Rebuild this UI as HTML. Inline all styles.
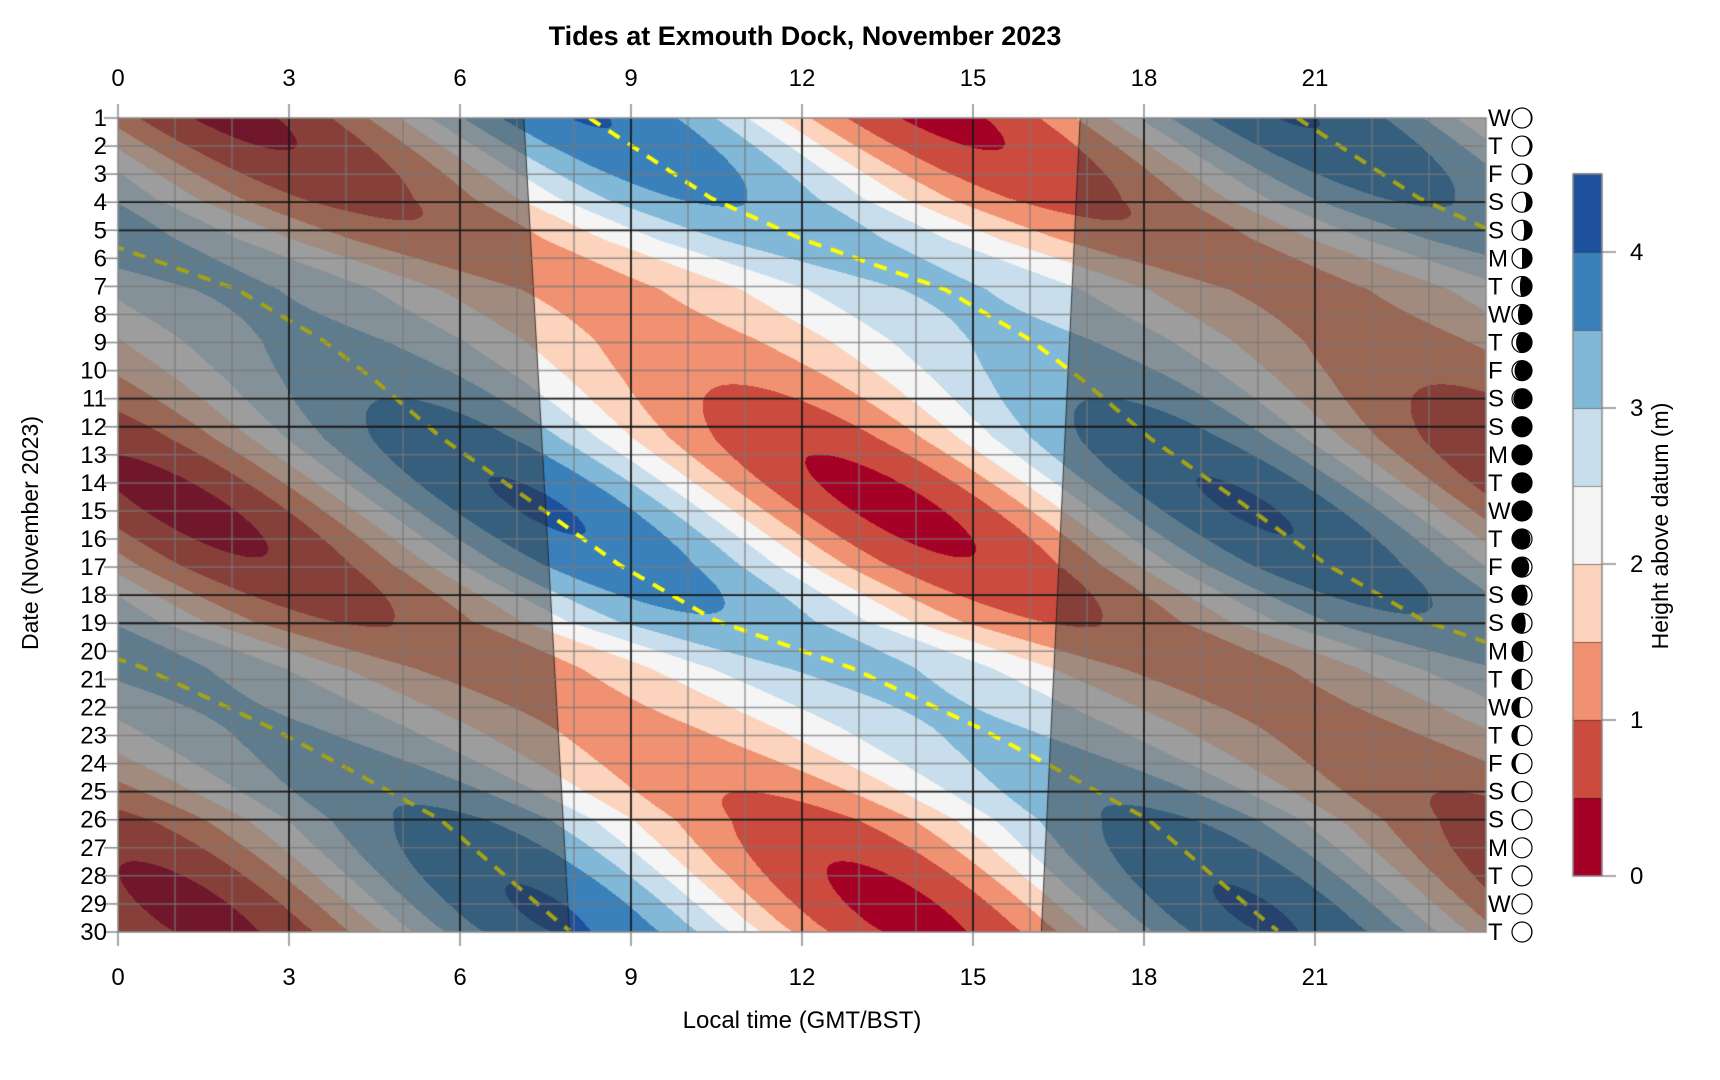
<!DOCTYPE html>
<html><head><meta charset="utf-8">
<style>
html,body{margin:0;padding:0;background:#fff;}
body{width:1720px;height:1080px;position:relative;overflow:hidden;font-family:"Liberation Sans",sans-serif;}
canvas{position:absolute;left:0;top:0;}
</style></head>
<body>
<canvas id="c" width="1720" height="1080"></canvas>
<svg id="s" width="1720" height="1080" style="position:absolute;left:0;top:0" font-family="Liberation Sans, sans-serif">
<text x="805" y="45" font-size="27" font-weight="bold" text-anchor="middle">Tides at Exmouth Dock, November 2023</text>
<text x="802" y="1028" font-size="24" text-anchor="middle">Local time (GMT/BST)</text>
<text transform="translate(38,533) rotate(-90)" font-size="23" text-anchor="middle">Date (November 2023)</text>
<text transform="translate(1668,526) rotate(-90)" font-size="23" text-anchor="middle">Height above datum (m)</text>
<g id="g"></g>
</svg>
<script>
const L=118,R=1486,T=118,B=932;
const W=R-L,H=B-T;
const xh=t=>L+t*W/24, yd=d=>T+(d-1)*H/29;
const Pp=[[1,8.27],[3.85,10.4],[5.3,11.98],[7.1,14.5],[8.9,16.0],[10.3,16.9],[12.4,18.1],[14.7,19.7],[16.9,21.2],[18.9,22.9],[20.6,25.3],[22.7,27.5],[24.1,28.8],[26,30.5],[29.7,32.6],[30,32.8]];
function P(d){for(let i=0;i<Pp.length-1;i++){if(d<=Pp[i+1][0]){const a=Pp[i],b=Pp[i+1];return a[1]+(b[1]-a[1])*(d-a[0])/(b[0]-a[0]);}}return 32.8;}
const Tp=12.42;
function A(d){return 1.35+0.5*Math.cos(2*Math.PI*(d-14.8)/14.5);}
function h(t,d){return 2.2+A(d)*Math.cos(2*Math.PI*(t-P(d))/Tp);}
const cols=[[165,0,38],[203,75,62],[240,146,113],[252,211,188],[245,245,245],[200,222,236],[130,184,215],[58,129,187],[29,80,157]];
const sr=d=>7.12+(d-1)/29*0.8, ss=d=>16.88-(d-1)/29*0.68;
const c=document.getElementById('c').getContext('2d');
const img=c.createImageData(W,H);
for(let y=0;y<H;y++){const d=1+y*29/H;for(let x=0;x<W;x++){const t=x*24/W;let v=h(t,d);let k=Math.floor(v/0.5);k=Math.max(0,Math.min(8,k));let col=cols[k];
const i=(y*W+x)*4;img.data[i]=col[0];img.data[i+1]=col[1];img.data[i+2]=col[2];img.data[i+3]=255;}}
c.putImageData(img,L,T);
c.save();c.beginPath();c.rect(L,T,W,H);c.clip();
c.strokeStyle='#ffff00';c.lineWidth=4;c.setLineDash([13,10]);
for(let k=-3;k<=1;k++){c.beginPath();let first=true;for(let d=1;d<=30;d+=0.05){const t=P(d)+k*Tp;if(t<-0.5||t>24.5){first=true;continue;}const X=xh(t),Y=yd(d);if(first){c.moveTo(X,Y);first=false;}else c.lineTo(X,Y);}c.stroke();}
c.setLineDash([]);
c.fillStyle='rgba(51,51,51,0.45)';
c.beginPath();c.moveTo(L,T);c.lineTo(xh(sr(1)),T);c.lineTo(xh(sr(30)),B);c.lineTo(L,B);c.closePath();c.fill();
c.beginPath();c.moveTo(R,T);c.lineTo(xh(ss(1)),T);c.lineTo(xh(ss(30)),B);c.lineTo(R,B);c.closePath();c.fill();
c.strokeStyle='rgba(30,30,30,0.8)';c.lineWidth=1;
c.beginPath();c.moveTo(xh(sr(1)),T);c.lineTo(xh(sr(30)),B);c.moveTo(xh(ss(1)),T);c.lineTo(xh(ss(30)),B);c.stroke();
c.strokeStyle='rgba(120,120,120,0.75)';c.lineWidth=1.5;
for(let t=1;t<24;t++){if(t%3==0)continue;c.beginPath();c.moveTo(xh(t),T);c.lineTo(xh(t),B);c.stroke();}
const wk=[4,5,11,12,18,19,25,26];
for(let d=2;d<30;d++){if(wk.includes(d))continue;c.beginPath();c.moveTo(L,yd(d));c.lineTo(R,yd(d));c.stroke();}
c.strokeStyle='#1a1a1a';c.lineWidth=1.8;
for(let t=3;t<24;t+=3){c.beginPath();c.moveTo(xh(t),T);c.lineTo(xh(t),B);c.stroke();}
for(const d of wk){c.beginPath();c.moveTo(L,yd(d));c.lineTo(R,yd(d));c.stroke();}
c.restore();
c.strokeStyle='#888';c.lineWidth=1.5;c.strokeRect(L,T,W,H);
c.strokeStyle='#888';c.lineWidth=1.5;
for(let t=0;t<24;t+=3){c.beginPath();c.moveTo(xh(t),T-14);c.lineTo(xh(t),T);c.moveTo(xh(t),B);c.lineTo(xh(t),B+14);c.stroke();}
for(let d=1;d<=30;d++){c.beginPath();c.moveTo(L-14,yd(d));c.lineTo(L,yd(d));c.stroke();}
const cbL=1573,cbR=1602,cb0=876,cbs=156;
for(let k=0;k<9;k++){const y1=cb0-(k+1)*0.5*cbs,y0=cb0-k*0.5*cbs;c.fillStyle=`rgb(${cols[k]})`;c.fillRect(cbL,y1,cbR-cbL,y0-y1);c.strokeStyle='#222';c.lineWidth=1;c.beginPath();c.moveTo(cbL,y1);c.lineTo(cbR,y1);c.stroke();}
c.strokeStyle='#888';c.lineWidth=1.5;c.strokeRect(cbL,cb0-4.5*cbs,cbR-cbL,4.5*cbs);
for(let v=0;v<=4;v++){c.beginPath();c.moveTo(cbR,cb0-v*cbs);c.lineTo(cbR+14,cb0-v*cbs);c.stroke();}
const g=document.getElementById('g');let s='';
for(let t=0;t<24;t+=3){s+=`<text x="${xh(t)}" y="86" font-size="24" text-anchor="middle">${t}</text><text x="${xh(t)}" y="985" font-size="24" text-anchor="middle">${t}</text>`;}
const days='WTFSSMTWTFSSMTWTFSSMTWTFSSMTWT';
for(let d=1;d<=30;d++){const y=yd(d);s+=`<text x="107" y="${y+8}" font-size="24" text-anchor="end">${d}</text>`;
s+=`<text x="1488" y="${y+8}" font-size="24">${days[d-1]}</text>`;
const a=(((d-13.4)%29.53)+29.53)%29.53/29.53;const f=(1-Math.cos(2*Math.PI*a))/2;const r=10,cx=1522,cy=y;
const lr=a<0.5?1:-1;
const sw1=lr>0?1:0;
let path=`M${cx},${cy-r} A${r},${r} 0 0 ${sw1} ${cx},${cy+r} `;
if(f>=0.5){const rx=r*(2*f-1);path+=`A${rx},${r} 0 0 ${sw1} ${cx},${cy-r}`;}
else{const rx=r*(1-2*f);path+=`A${rx},${r} 0 0 ${1-sw1} ${cx},${cy-r}`;}
s+=`<circle cx="${cx}" cy="${cy}" r="${r}" fill="#000"/><path d="${path}Z" fill="#fff"/><circle cx="${cx}" cy="${cy}" r="${r}" fill="none" stroke="#000" stroke-width="1.2"/>`;}
for(let v=0;v<=4;v++){s+=`<text x="1630" y="${cb0-v*cbs+8}" font-size="24">${v}</text>`;}
g.innerHTML=s;
</script>
</body></html>
